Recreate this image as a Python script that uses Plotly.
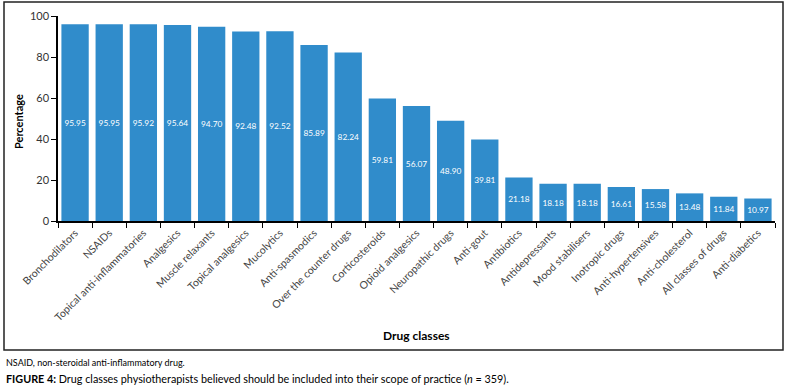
import plotly.graph_objects as go

categories = ["Bronchodilators", "NSAIDs", "Topical anti-inflammatories", "Analgesics",
              "Muscle relaxants", "Topical analgesics", "Mucolytics", "Anti-spasmodics",
              "Over the counter drugs", "Corticosteroids", "Opioid analgesics",
              "Neuropathic drugs", "Anti-gout", "Antibiotics", "Antidepressants",
              "Mood stabilisers", "Inotropic drugs", "Anti-hypertensives",
              "Anti-cholesterol", "All classes of drugs", "Anti-diabetics"]
values = [95.95, 95.95, 95.92, 95.64, 94.70, 92.48, 92.52, 85.89, 82.24, 59.81, 56.07,
          48.90, 39.81, 21.18, 18.18, 18.18, 16.61, 15.58, 13.48, 11.84, 10.97]
labels = [f"{v:.2f}" for v in values]

W, H = 791, 390
L, R, T, B = 58, 16, 16, 169
pw, ph = W - L - R, H - T - B

def px(x):
    return (x - L) / pw

def py(y):
    return (H - B - y) / ph

FONT = "Lato"

fig = go.Figure(go.Bar(
    x=categories, y=values, text=labels,
    textposition="inside", insidetextanchor="middle", textangle=0,
    textfont=dict(family=FONT, size=10.5, color="white"),
    marker=dict(color="#308CCB", line=dict(width=0)),
    width=0.8, cliponaxis=False,
))

fig.update_layout(
    width=W, height=H,
    margin=dict(l=L, r=R, t=T, b=B, autoexpand=False),
    paper_bgcolor="white", plot_bgcolor="white",
    showlegend=False,
    font=dict(family=FONT, size=10, color="#333333"),
    xaxis=dict(
        tickangle=-45, tickson="boundaries", ticks="outside", ticklen=5,
        tickcolor="black", showline=True, linecolor="black", linewidth=1.5,
        showgrid=False, automargin=False,
        tickfont=dict(family=FONT, size=10.5, color="#444444"),
    ),
    yaxis=dict(
        range=[0, 100], dtick=20, ticks="outside", ticklen=5, tickcolor="black",
        showline=True, linecolor="black", linewidth=1.5, showgrid=False,
        zeroline=False, automargin=False,
        tickfont=dict(family=FONT, size=11, color="#333333"),
    ),
    shapes=[dict(type="rect", xref="paper", yref="paper",
                 x0=px(4), x1=px(783), y0=py(350), y1=py(2),
                 line=dict(color="#222222", width=1.5))],
    annotations=[
        dict(text="<b>Percentage</b>", xref="paper", yref="paper", x=px(18), y=py(122),
             textangle=-90, showarrow=False, font=dict(family=FONT, size=11, color="black"),
             xanchor="center", yanchor="middle"),
        dict(text="<b>Drug classes</b>", xref="paper", yref="paper", x=px(416), y=py(335),
             showarrow=False, font=dict(family=FONT, size=12, color="black"),
             xanchor="center", yanchor="middle"),
        dict(text="NSAID, non-steroidal anti-inflammatory drug.", xref="paper", yref="paper",
             x=px(4), y=py(362), showarrow=False, xanchor="left", yanchor="middle",
             font=dict(family=FONT, size=9, color="black")),
        dict(text="<b>FIGURE 4:</b> Drug classes physiotherapists believed should be included into their scope of practice (<i>n</i> = 359).",
             xref="paper", yref="paper", x=px(4), y=py(378), showarrow=False,
             xanchor="left", yanchor="middle",
             font=dict(family=FONT, size=10.8, color="black")),
    ],
)

fig.write_html("out.html", config={"displayModeBar": False},
               post_script="document.body.style.margin='0';document.body.style.padding='0';")
